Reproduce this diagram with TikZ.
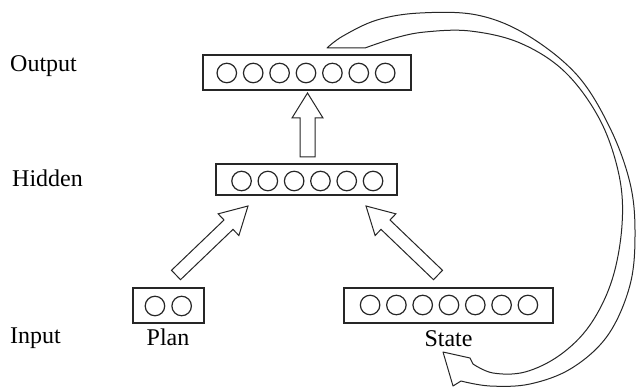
\documentclass[tikz,border=0pt]{standalone}
\usepackage{fontspec}
\setmainfont{Liberation Serif}
\usetikzlibrary{calc}
\tikzset{
  layerbox/.style={draw=black!85, line width=1.6pt, rectangle, inner sep=0pt, fill=white},
  neuron/.style={draw=black!85, line width=1.2pt, circle, inner sep=0pt, minimum size=19.5pt},
  barrow/.style={draw=black!85, line width=1pt, line join=miter, fill=white},
  lab/.style={font=\rmfamily\fontsize{24}{28}\selectfont, inner sep=0pt, anchor=base west},
  sublab/.style={font=\rmfamily\fontsize{24}{28}\selectfont, inner sep=0pt, anchor=base},
}
\newcommand\blockarrow[5]{% tail, tip, half shaft, half head, head length
  \coordinate (#1#2h) at ($(#2)!#5!(#1)$);
  \draw[barrow] ($(#1)!#3!90:(#2)$) -- ($(#1#2h)!#3!90:(#2)$) -- ($(#1#2h)!#4!90:(#2)$)
    -- (#2) -- ($(#1#2h)!#4!-90:(#2)$) -- ($(#1#2h)!#3!-90:(#2)$) -- ($(#1)!#3!-90:(#2)$) -- cycle;
}
\begin{document}
\begin{tikzpicture}[x=1pt,y=-1pt]
\useasboundingbox (0,0) rectangle (636,387);
% labels
\node[lab] (lout) at (10,72) {Output};
\node[lab] (lhid) at (12,187) {Hidden};
\node[lab] (linp) at (10,343) {Input};
% boxes
\node[layerbox, minimum width=208pt, minimum height=35pt] (outbox) at (307,72.5) {};
\node[layerbox, minimum width=181pt, minimum height=31pt] (hidbox) at (306.5,179.5) {};
\node[layerbox, minimum width=71pt, minimum height=35pt] (planbox) at (168.5,305.5) {};
\node[layerbox, minimum width=209pt, minimum height=35pt] (statebox) at (448.5,305.5) {};
% neurons
\foreach \i in {1,...,7} \node[neuron] (o\i) at ({306+(\i-4)*26.4},73) {};
\foreach \i in {1,...,6} \node[neuron] (h\i) at ({307.3+(\i-3.5)*26.3},181) {};
\foreach \i in {1,2} \node[neuron] (p\i) at ({168.3+(\i-1.5)*26.7},306) {};
\foreach \i in {1,...,7} \node[neuron] (s\i) at ({449+(\i-4)*26.3},305) {};
% sub labels
\node[sublab] (lplan) at (168,345) {Plan};
\node[sublab] (lstate) at (448.5,346) {State};
% block arrows
\coordinate (vt) at (307.5,157);
\coordinate (vh) at (307.5,93);
\coordinate (lt) at (176,275);
\coordinate (lh) at (248,206);
\coordinate (rt) at (438,275);
\coordinate (rh) at (366,206);
\blockarrow{vt}{vh}{7.5pt}{15.5pt}{25pt}
\blockarrow{lt}{lh}{6.5pt}{15pt}{27pt}
\blockarrow{rt}{rh}{6.5pt}{15pt}{27pt}
% recurrent arrow
\draw[barrow, line join=round] (327,48) -- plot[smooth, tension=0.6] coordinates {(365,48) (395,38) (425,32) (470,31) (520,43) (565,72) (600,120) (619,175) (622,225) (612,280) (590,325) (560,355) (525,372) (493,373) (473,364)}
  -- (470,358) -- (443,352) -- (453,386) --
  plot[smooth, tension=0.6] coordinates {(461,381) (490,386) (530,384) (572,368) (608,335) (630,285) (635,233) (630,183) (610,128) (577,75) (527,35) (477,15) (420,13) (377,20) (343,36) (327,48)} -- cycle;
\end{tikzpicture}
\end{document}
